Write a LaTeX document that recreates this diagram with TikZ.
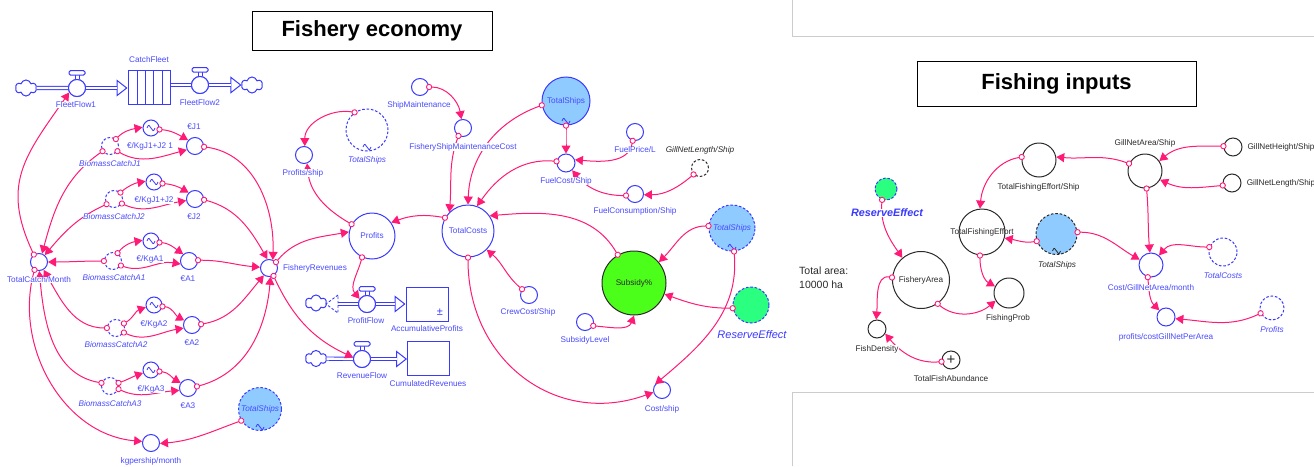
\documentclass[tikz,border=0pt]{standalone}
\usepackage{fontspec}
\setmainfont{Liberation Sans}
\usetikzlibrary{arrows.meta,shapes.symbols,calc}
\definecolor{fblue}{HTML}{3A3AFF}
\definecolor{ltxt}{HTML}{4A4AFF}
\definecolor{pinkc}{HTML}{FF1A75}
\definecolor{sky}{HTML}{8FCBFF}
\definecolor{subs}{HTML}{4CFF1A}
\definecolor{resv}{HTML}{2BFF7F}
\definecolor{dtxt}{HTML}{2A2A2A}
\definecolor{frame}{HTML}{CCCCCC}
\tikzset{
  circb/.style={circle,draw=fblue,line width=1pt,inner sep=0pt,text=ltxt,font=\fontsize{8.2}{9}\selectfont},
  circk/.style={circb,draw=dtxt,text=dtxt},
  ghost/.style={dashed,dash pattern=on 2.6pt off 1.8pt},
  conn/.style={draw=pinkc,line width=1pt,shorten <=-3pt,
    {Circle[open,fill=white,length=6.2pt,width=6.2pt,line width=.9pt]}-{Triangle[length=8pt,width=9pt,fill=pinkc]}},
  lb/.style={text=ltxt,fill=white,inner sep=.4pt,font=\fontsize{8.2}{9}\selectfont},
  lbi/.style={lb,font=\fontsize{8.2}{9}\selectfont\itshape},
  lk/.style={lb,text=dtxt},
  lki/.style={lbi,text=dtxt},
  titlebox/.style={draw=black,line width=.9pt,fill=white,inner sep=0pt,font=\fontsize{22}{24}\selectfont\bfseries,text=black},
  cloudn/.style={cloud,cloud puffs=6,aspect=1.3,draw=fblue,line width=1pt,minimum width=21pt,minimum height=16pt,inner sep=0pt,fill=white},
  stockn/.style={rectangle,draw=fblue,line width=1pt,fill=white,inner sep=0pt},
  valven/.style={circle,draw=fblue,line width=1pt,fill=white,inner sep=0pt,minimum size=17pt},
  fline/.style={draw=fblue,double=white,double distance=2.4pt,line width=.9pt},
  framel/.style={draw=frame,line width=.8pt}
}
\newcommand\cir[6][]{\node[circb,minimum size=2*#5 pt,#1] (#2) at (#3,#4) {\makebox[0pt]{#6}};}
\newcommand\lab[5][lb]{\node[#1] (#2) at (#3,#4) {#5};}
\newcommand\cn[7][1]{\draw[conn] (#2.#3) to[out=#6,in=#7,looseness=#1] (#4.#5);}
\newcommand\tld[3][fblue]{\draw[#1,line width=.8pt] (#2.center) ++(-4,#3) .. controls +(2,-5) and +(-2,-2) .. ++(4,0) .. controls +(2,2) and +(-2,5) .. ++(4,0);}
\newcommand\hdl[1]{\draw[fblue,line width=.9pt] (#1.north) ++(-2,0) -- ++(0,-4) (#1.north) ++(2,0) -- ++(0,-4);
  \draw[fblue,line width=1pt,rounded corners=1.6pt,fill=white] (#1.north) ++(-8,-3.8) rectangle ++(16,-4.6);}
\newcommand\fa[2]{\draw[fblue,line width=1pt,-{Triangle[open,fill=white,length=11pt,width=17pt]}] (#1) -- (#2);
  \draw[fline,shorten >=10.5pt] (#1) -- (#2);}
\begin{document}
\begin{tikzpicture}[x=1pt,y=-1pt]
\useasboundingbox (0,0) rectangle (1314,466);
% page frames
\coordinate (fa) at (792,0); \coordinate (fb) at (792,36); \coordinate (fc) at (1314,36);
\coordinate (fd) at (792,466); \coordinate (fe) at (792,392); \coordinate (ff) at (1314,392);
\draw[framel] (fa) -- (fb) -- (fc);
\draw[framel] (fd) -- (fe) -- (ff);
% titles
\node[titlebox,minimum width=240pt,minimum height=39pt] (t1) at (372,30.5) {Fishery economy};
\node[titlebox,minimum width=279pt,minimum height=45pt] (t2) at (1056.5,83.5) {Fishing inputs};
% ---- stocks, flows
\node[stockn,minimum width=42pt,minimum height=34pt] (catch) at (149,87) {};
\foreach \xx in {137,145,153,162} \draw[fblue,line width=.9pt] (\xx,70) -- (\xx,104);
\node[cloudn] (c1) at (26,88) {};
\node[cloudn] (c2) at (252,85) {};
\node[valven] (ff1) at (77,88) {};
\node[valven] (ff2) at (200,85) {};
\draw[fline] (c1) -- (ff1);
\fa{ff1}{catch.west |- ff1}
\draw[fline] (catch.east |- ff2) -- (ff2);
\fa{ff2}{c2.west |- ff2}
\node[valven] (ff1b) at (77,88) {};
\node[valven] (ff2b) at (200,85) {};
\hdl{ff1b}\hdl{ff2b}
\node[stockn,minimum width=42pt,minimum height=34pt] (acc) at (427,304) {};
\node[text=fblue,inner sep=0pt,font=\fontsize{11}{11}\selectfont] (pm) at (440,312) {±};
\node[stockn,minimum width=42pt,minimum height=34pt] (cum) at (428.5,358) {};
\node[cloudn] (c3) at (316,303) {};
\node[cloudn] (c4) at (316,358.5) {};
\node[valven] (pf) at (367,304) {};
\node[valven] (rf) at (362,359) {};
\coordinate (pfa) at (338,304);
\draw[fline] (pfa) -- (pf);
\coordinate (pfb) at (338,295); \coordinate (pfc) at (326,304); \coordinate (pfd) at (338,313);
\draw[fblue,line width=.9pt,ghost] (pfb) -- (pfc) -- (pfd) -- cycle;
\fa{pf}{acc.west |- pf}
\draw[fline] (c4) -- (rf);
\fa{rf}{cum.west |- rf}
\node[valven] (pfv) at (367,304) {};
\node[valven] (rfv) at (362,359) {};
\hdl{pfv}\hdl{rfv}
% ---- left column
\cir{tc}{39}{262}{8.5}{}
\cir[ghost]{bj1}{110}{146}{8.5}{}
\cir{kj1}{151}{128}{8}{}\tld{kj1}{0}
\cir{ej1}{195}{146}{8.5}{}
\cir[ghost]{bj2}{114}{199}{8.5}{}
\cir{kj2}{154}{182}{8}{}\tld{kj2}{0}
\cir{ej2}{195}{199}{8.5}{}
\cir[ghost]{ba1}{113}{261}{8.5}{}
\cir{ka1}{151}{241}{8}{}\tld{ka1}{0}
\cir{ea1}{189}{261}{8.5}{}
\cir{fr}{269}{268}{8.5}{}
\cir[ghost]{ba2}{116}{328}{8.5}{}
\cir{ka2}{154}{305}{8}{}\tld{ka2}{0}
\cir{ea2}{192}{325}{8.5}{}
\cir[ghost]{ba3}{110}{386}{8.5}{}
\cir{ka3}{151}{370}{8}{}\tld{ka3}{0}
\cir{ea3}{188}{388}{8.5}{}
\cir[ghost,fill=sky,font=\fontsize{8.2}{9}\selectfont\itshape]{tsa}{260}{409}{21.5}{TotalShips}\tld{tsa}{18}
\cir{kg}{151}{443}{8.5}{}
% ---- middle
\cir{ps}{304}{155}{8.5}{}
\cir[ghost]{tsb}{367}{130}{21}{}\tld{tsb}{17}
\cir{sm}{420}{87}{8.5}{}
\cir{fsm}{463}{128}{8.5}{}
\cir{prof}{372}{236}{23}{Profits}
\cir{tcost}{468}{231}{26}{TotalCosts}
\cir{crew}{529}{295}{8.5}{}
\cir[fill=sky]{tsc}{566}{101}{24}{TotalShips}\tld{tsc}{20}
\cir{fuel}{566}{163}{9}{}
\cir{price}{635}{132}{8.5}{}
\cir[circk,ghost]{gnl}{700}{168}{8.5}{}
\cir{cons}{635}{194}{8.5}{}
\cir[ghost,fill=sky,font=\fontsize{8.2}{9}\selectfont\itshape]{tsd}{732}{228}{23}{TotalShips}\tld{tsd}{19}
\cir[circk,fill=subs]{subp}{634}{283}{32}{Subsidy\%}
\cir{sl}{585}{322}{8.5}{}
\cir[ghost,fill=resv]{rea}{751}{305}{18}{}
\cir{cs}{662}{390}{8.5}{}
% ---- right
\cir[ghost,fill=resv]{reb}{886}{189}{11}{}
\cir[circk]{farea}{921}{280}{28.5}{FisheryArea}
\cir[circk]{tfe}{982}{232}{23}{TotalFishingEffort}
\cir[circk]{fp}{1009}{293}{15}{}
\cir[circk]{fd2}{877}{329}{9}{}
\cir[circk,font=\fontsize{15}{15}\selectfont]{tfa}{951}{360}{9}{+}
\cir[circk]{tfes}{1039}{160}{17}{}
\cir[circk]{gna}{1145}{171}{17}{}
\cir[circk]{gnh}{1233}{147}{9}{}
\cir[circk]{gnl2}{1232}{183}{9}{}
\cir[circk,ghost,fill=sky]{tse}{1056.5}{234}{20.5}{}\tld[dtxt]{tse}{17}
\cir{cg}{1151}{265}{12}{}
\cir[ghost]{tcb}{1223}{252}{14}{}
\cir{pc}{1166}{317}{9}{}
\cir[ghost]{pfs}{1272}{308}{12}{}
% ---- connectors
\cn[1.2]{tc}{125}{ff1}{210}{115}{235}
\cn{bj1}{215}{tc}{70}{215}{75}
\cn{bj1}{50}{kj1}{175}{45}{190}
\cn{bj1}{-35}{ej1}{205}{-30}{195}
\cn{kj1}{-10}{ej1}{140}{-5}{150}
\cn{ej1}{-5}{fr}{65}{-8}{88}
\cn{bj2}{45}{kj2}{175}{40}{190}
\cn{bj2}{-30}{ej2}{190}{-25}{190}
\cn{kj2}{-10}{ej2}{135}{-5}{150}
\cn{bj2}{215}{tc}{50}{205}{50}
\cn{ej2}{-5}{fr}{100}{-15}{120}
\cn{ba1}{180}{tc}{0}{180}{0}
\cn{ba1}{60}{ka1}{175}{50}{190}
\cn{ba1}{-30}{ea1}{200}{-20}{170}
\cn{ka1}{-10}{ea1}{130}{-5}{145}
\cn{ea1}{5}{fr}{175}{0}{175}
\cn{ba2}{180}{tc}{300}{180}{-60}
\cn{ba3}{160}{tc}{272}{170}{-85}
\cn{tc}{240}{kg}{170}{255}{175}
\cn{ba2}{30}{ka2}{195}{30}{200}
\cn{ba2}{-30}{ea2}{200}{-25}{190}
\cn{ka2}{-10}{ea2}{150}{-5}{150}
\cn{ea2}{5}{fr}{235}{10}{230}
\cn{ba3}{20}{ka3}{200}{20}{200}
\cn{ba3}{-20}{ea3}{195}{-25}{185}
\cn{ka3}{-10}{ea3}{145}{-5}{150}
\cn{ea3}{10}{fr}{280}{15}{265}
\cn{tsa}{212}{kg}{-3}{200}{5}
\cn{fr}{40}{prof}{170}{50}{190}
\cn{fr}{-60}{rf}{170}{-65}{155}
\cn{prof}{245}{pf}{145}{255}{130}
\cn{prof}{150}{ps}{-70}{150}{-85}
\cn{tsb}{125}{ps}{85}{170}{90}
\cn{tcost}{150}{prof}{35}{170}{20}
\cn{sm}{0}{fsm}{100}{0}{100}
\cn{fsm}{240}{tcost}{135}{250}{85}
\cn{tsc}{190}{tcost}{90}{200}{88}
\cn{fuel}{170}{tcost}{70}{175}{55}
\cn{tsc}{-90}{fuel}{90}{-90}{90}
\cn{price}{255}{fuel}{20}{260}{-5}
\cn{cons}{190}{fuel}{-50}{180}{-50}
\cn{gnl}{225}{cons}{-5}{220}{0}
\cn{tsd}{175}{subp}{40}{180}{45}
\cn{subp}{120}{tcost}{35}{120}{5}
\cn{rea}{190}{subp}{-20}{180}{-20}
\cn{sl}{-25}{subp}{-90}{-5}{250}
\cn{crew}{140}{tcost}{-45}{140}{-40}
\cn[1.15]{tcost}{-90}{cs}{195}{-90}{200}
\cn{tsd}{-85}{cs}{140}{-85}{40}
\cn{reb}{250}{farea}{130}{-95}{125}
\cn{farea}{175}{fd2}{95}{170}{85}
\cn{farea}{-55}{fp}{210}{-40}{220}
\cn{tfa}{190}{fd2}{-30}{185}{-50}
\cn{tfe}{-95}{fp}{155}{-90}{150}
\cn{tse}{200}{tfe}{-15}{190}{-10}
\cn{tfes}{170}{tfe}{95}{190}{85}
\cn{gna}{155}{tfes}{10}{160}{-5}
\cn{gnh}{175}{gna}{35}{180}{40}
\cn{gnl2}{195}{gna}{-30}{185}{-25}
\cn{gna}{-85}{cg}{95}{-85}{95}
\cn{tse}{5}{cg}{155}{0}{150}
\cn{tcb}{160}{cg}{50}{180}{50}
\cn{cg}{-105}{pc}{135}{-85}{135}
\cn{pfs}{205}{pc}{-10}{205}{-5}
% ---- labels
\lab{l-cf}{149}{60}{CatchFleet}
\lab{l-ff1}{76}{105}{FleetFlow1}
\lab{l-ff2}{200}{103}{FleetFlow2}
\lab{l-kj1}{150}{146}{€/KgJ1+J2 1}
\lab[lbi]{l-bj1}{110}{164}{BiomassCatchJ1}
\lab{l-ej1}{194}{127}{€J1}
\lab{l-kj2}{154}{200}{€/KgJ1+J2}
\lab[lbi]{l-bj2}{114}{217}{BiomassCatchJ2}
\lab{l-ej2}{194}{217}{€J2}
\lab{l-tc}{39}{280}{TotalCatch/Month}
\lab[lbi]{l-ba1}{114}{278}{BiomassCatchA1}
\lab{l-ka1}{150}{259}{€/KgA1}
\lab{l-ea1}{188}{279}{€A1}
\lab{l-fr}{315}{268}{FisheryRevenues}
\lab{l-ka2}{154}{324}{€/KgA2}
\lab[lbi]{l-ba2}{116}{345}{BiomassCatchA2}
\lab{l-ea2}{192}{343}{€A2}
\lab{l-ka3}{151}{389}{€/KgA3}
\lab[lbi]{l-ba3}{110}{404}{BiomassCatchA3}
\lab{l-ea3}{188}{406}{€A3}
\lab{l-kg}{151}{461}{kgpership/month}
\lab{l-ps}{303}{173}{Profits/ship}
\lab[lbi]{l-tsb}{367}{160}{TotalShips}
\lab{l-sm}{419}{105}{ShipMaintenance}
\lab{l-fsm}{463}{147}{FisheryShipMaintenanceCost}
\lab{l-pf}{366}{321}{ProfitFlow}
\lab{l-acc}{427}{329}{AccumulativeProfits}
\lab{l-rf}{362}{376}{RevenueFlow}
\lab{l-cum}{428}{384}{CumulatedRevenues}
\lab{l-crew}{528}{312}{CrewCost/Ship}
\lab{l-fuel}{566}{181}{FuelCost/Ship}
\lab{l-price}{635}{150}{FuelPrice/L}
\lab[lki]{l-gnl}{700}{150}{GillNetLength/Ship}
\lab{l-cons}{635}{211}{FuelConsumption/Ship}
\lab{l-sl}{585}{340}{SubsidyLevel}
\node[text=fblue,inner sep=.4pt,fill=white,font=\fontsize{11}{12}\selectfont\itshape] (l-rea) at (752,335) {ReserveEffect};
\lab{l-cs}{662}{409}{Cost/ship}
\node[text=fblue,inner sep=.4pt,fill=white,font=\fontsize{10.8}{12}\selectfont\itshape\bfseries] (l-reb) at (887,213) {ReserveEffect};
\node[align=left,inner sep=0pt,text=dtxt,font=\fontsize{10.5}{14}\selectfont,anchor=west] (tarea) at (799,278) {Total area:\\10000 ha};
\lab[lk]{l-fp}{1008}{318}{FishingProb}
\lab[lk]{l-fd}{877}{349}{FishDensity}
\lab[lk]{l-tfa}{951}{379}{TotalFishAbundance}
\lab[lk]{l-tfes}{1038.5}{187}{TotalFishingEffort/Ship}
\lab[lk]{l-gna}{1145}{143}{GillNetArea/Ship}
\lab[lk]{l-gnh}{1281}{147}{GillNetHeight/Ship}
\lab[lk]{l-gnl2}{1281}{183}{GillNetLength/Ship}
\lab[lki]{l-tse}{1057}{265}{TotalShips}
\lab{l-cg}{1151}{288}{Cost/GillNetArea/month}
\lab[lbi]{l-tcb}{1223}{276}{TotalCosts}
\lab{l-pc}{1166}{337}{profits/costGillNetPerArea}
\lab[lbi]{l-pfs}{1272}{330}{Profits}
\end{tikzpicture}
\end{document}
